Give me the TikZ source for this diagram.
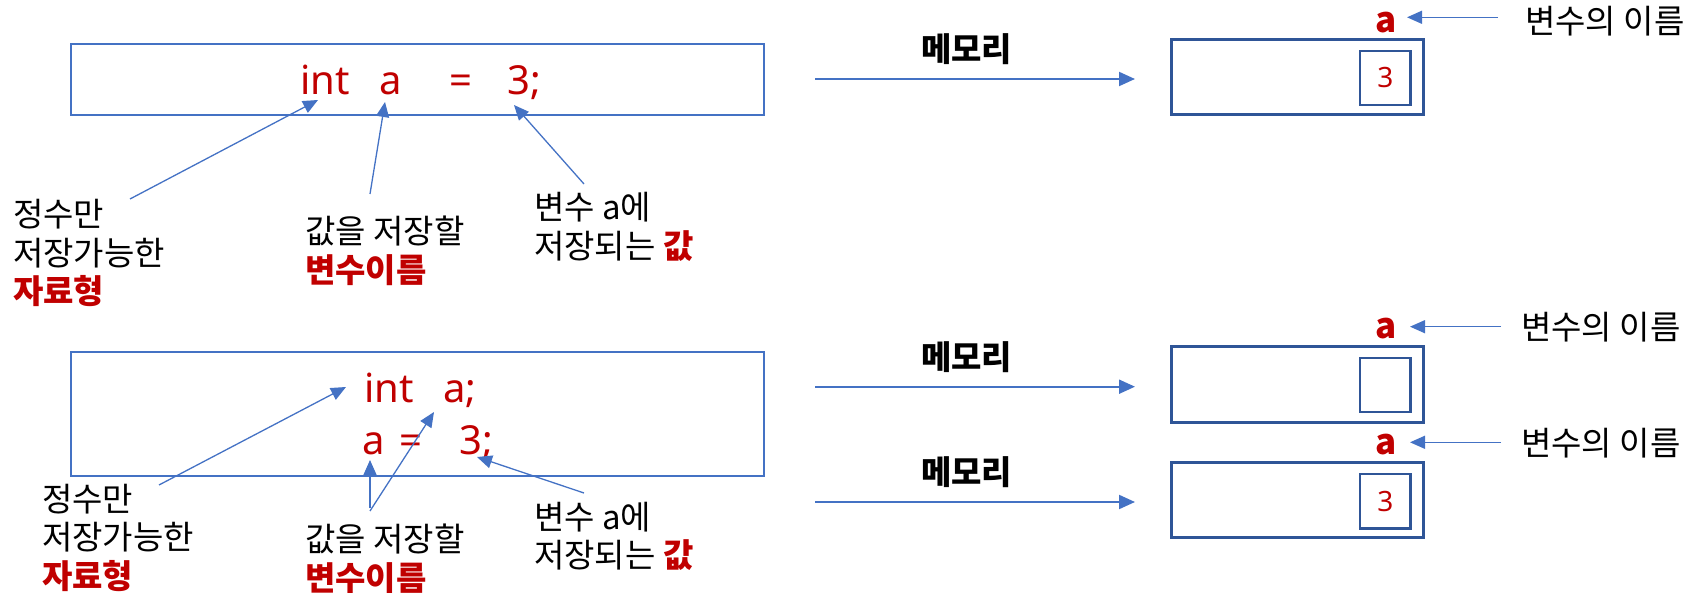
\documentclass[tikz,border=0pt]{standalone}
\usepackage{fontspec}
\setmainfont{Noto Sans}
\newfontfamily\kr{Noto Sans CJK KR}
\usetikzlibrary{arrows.meta}
\definecolor{lblue}{HTML}{4472C4}
\definecolor{dblue}{HTML}{2F5597}
\definecolor{dred}{HTML}{C00000}
\newcommand{\hot}[1]{\textcolor{dred}{\bfseries #1}}
\tikzset{
  codebox/.style={draw=lblue, line width=2pt, inner sep=0},
  membox/.style={draw=dblue, line width=3pt, inner sep=0},
  cellbox/.style={draw=dblue, line width=2.6pt, inner sep=0, text=dred, font=\fontsize{28}{32}\selectfont},
  code/.style={font=\fontsize{40}{48}\selectfont, text=dred, inner sep=0, anchor=base west},
  lbl/.style={font=\kr\fontsize{33}{38.5}\selectfont, inner sep=0, anchor=base west, align=left},
  ptr/.style={draw=lblue, line width=1.3pt, -{Triangle[length=15pt,width=13pt]}},
  memarrow/.style={draw=lblue, line width=2pt, -{Triangle[length=16pt,width=14pt]}},
  memlbl/.style={font=\kr\bfseries\fontsize{33}{38}\selectfont, inner sep=0, anchor=base west},
  varname/.style={font=\kr\bfseries\fontsize{35}{40}\selectfont, text=dred, inner sep=0, anchor=base},
  namelbl/.style={font=\kr\fontsize{33}{38}\selectfont, inner sep=0, anchor=base west}
}
\begin{document}
\begin{tikzpicture}[x=1pt,y=-1pt]
\useasboundingbox (0,0) rectangle (1701,593);

% ---------- top section ----------
\node[codebox, minimum width=693.5pt, minimum height=71.3pt] (cbox1) at (417.25,79.65) {};
\node[code] (t1int) at (300,95) {int};
\node[code] (t1a) at (379,95) {a};
\node[code] (t1eq) at (449,95) {=};
\node[code] (t1val) at (507,95) {3;};

% base anchor = baseline of the last line
\node[lbl] (t1type) at (13,304) {정수만\\저장가능한\\\hot{자료형}};
\node[lbl] (t1name) at (305,282.5) {값을 저장할\\\hot{변수이름}};
\node[lbl] (t1value) at (534,258.5) {변수 a에\\저장되는 \hot{값}};

\coordinate (t1typeS) at (130,199);
\coordinate (t1typeT) at (318,100);
\coordinate (t1nameS) at (370,194);
\coordinate (t1nameT) at (385,102);
\coordinate (t1valS) at (584,184);
\coordinate (t1valT) at (514,105);
\draw[ptr] (t1typeS) -- (t1typeT);
\draw[ptr] (t1nameS) -- (t1nameT);
\draw[ptr] (t1valS) -- (t1valT);

\node[memlbl] (mlbl1) at (921,62) {메모리};
\coordinate (m1s) at (815,79);
\coordinate (m1t) at (1135,79);
\draw[memarrow] (m1s) -- (m1t);
\node[membox, minimum width=252pt, minimum height=75pt] (mem1) at (1297,77.5) {};
\node[cellbox, minimum width=50.5pt, minimum height=54pt] (cell1) at (1385.25,78) {3};
\node[varname] (v1) at (1386,32.7) {a};
\node[namelbl] (n1) at (1525,34) {변수의 이름};
\coordinate (v1s) at (1498,17.3);
\coordinate (v1t) at (1407,17.3);
\draw[ptr] (v1s) -- (v1t);

% ---------- bottom section ----------
\node[codebox, minimum width=693.5pt, minimum height=123.7pt] (cbox2) at (417.25,413.85) {};
\node[code] (b1int) at (364,403) {int};
\node[code] (b1a) at (443,403) {a;};
\node[code] (b2a) at (362,455) {a};
\node[code] (b2eq) at (399,455) {=};
\node[code] (b2val) at (459,455) {3;};

\node[lbl] (b1type) at (42,588) {정수만\\저장가능한\\\hot{자료형}};
\node[lbl] (b1name) at (305,590) {값을 저장할\\\hot{변수이름}};
\node[lbl] (b1value) at (534,567.5) {변수 a에\\저장되는 \hot{값}};

\coordinate (b1typeS) at (159,485);
\coordinate (b1typeT) at (346,387);
\coordinate (b1nameS) at (370,511);
\coordinate (b1nameT) at (434,412);
\coordinate (b2nameS) at (370,508);
\coordinate (b2nameT) at (370,460);
\coordinate (b1valS) at (584,493);
\coordinate (b1valT) at (477,457);
\draw[ptr] (b1typeS) -- (b1typeT);
\draw[ptr] (b1nameS) -- (b1nameT);
\draw[ptr] (b2nameS) -- (b2nameT);
\draw[ptr] (b1valS) -- (b1valT);

\node[memlbl] (mlbl2) at (921,370) {메모리};
\coordinate (m2s) at (815,386.7);
\coordinate (m2t) at (1135,386.7);
\draw[memarrow] (m2s) -- (m2t);
\node[membox, minimum width=252pt, minimum height=75.6pt] (mem2) at (1297,384.5) {};
\node[cellbox, minimum width=50.5pt, minimum height=54pt] (cell2) at (1385.25,385) {};
\node[varname] (v2) at (1386,339) {a};
\node[namelbl] (n2) at (1521,340) {변수의 이름};
\coordinate (v2s) at (1501,326.7);
\coordinate (v2t) at (1410,326.7);
\draw[ptr] (v2s) -- (v2t);

\node[memlbl] (mlbl3) at (921,485) {메모리};
\coordinate (m3s) at (815,502);
\coordinate (m3t) at (1135,502);
\draw[memarrow] (m3s) -- (m3t);
\node[membox, minimum width=252pt, minimum height=75pt] (mem3) at (1297,500.2) {};
\node[cellbox, minimum width=50.5pt, minimum height=54.3pt] (cell3) at (1385.25,501.15) {3};
\node[varname] (v3) at (1386,455) {a};
\node[namelbl] (n3) at (1521,456) {변수의 이름};
\coordinate (v3s) at (1501,442.3);
\coordinate (v3t) at (1410,442.3);
\draw[ptr] (v3s) -- (v3t);
\end{tikzpicture}
\end{document}
